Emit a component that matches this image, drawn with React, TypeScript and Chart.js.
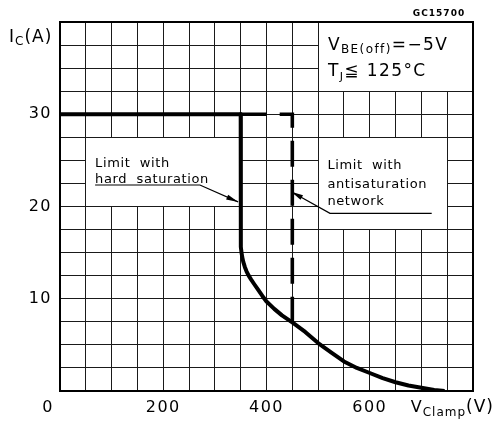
import React, { useEffect, useRef } from "react";
import { Chart, registerables } from "chart.js";

Chart.register(...registerables);

// ---- data ----
// Limit with hard saturation (solid)
const solidV = [0, 350, 350, 350.6, 351.6, 353, 355, 358, 361.5, 365.5, 370, 376, 384, 392, 400, 415, 430, 452, 475, 500, 525, 550, 575, 600, 625, 650, 675, 700, 725, 745];
const solidI = [30, 30, 16.4, 15.6, 15.0, 14.5, 14.0, 13.45, 12.95, 12.5, 12.1, 11.6, 10.95, 10.3, 9.7, 8.9, 8.2, 7.35, 6.4, 5.2, 4.2, 3.2, 2.5, 1.95, 1.4, 0.95, 0.6, 0.35, 0.12, 0];
// Limit with antisaturation network (dashed)
const dashV = [350, 450, 450];
const dashI = [30, 30, 7.4];

const xTickLabels = [0, 200, 400, 600];
const yTickLabels = [10, 20, 30];
const xMin = 0, xMax = 800, xStep = 50;
const yMin = 0, yMax = 40, yStep = 2.5;

const FONT = "'DejaVu Sans', sans-serif";

type Run = { t: string; size: number; dy?: number; bold?: boolean };

function drawRuns(ctx: CanvasRenderingContext2D, x: number, y: number, runs: Run[], spacing = 0, align: "left" | "right" | "center" = "left") {
  ctx.save();
  ctx.textBaseline = "alphabetic";
  ctx.textAlign = "left";
  ctx.fillStyle = "#000";
  (ctx as any).letterSpacing = spacing + "px";
  const fontOf = (r: Run) => `${r.bold ? "bold " : ""}${r.size}px ${FONT}`;
  const widths = runs.map((r) => {
    ctx.font = fontOf(r);
    return ctx.measureText(r.t).width;
  });
  const total = widths.reduce((a, b) => a + b, 0);
  let cx = align === "left" ? x : align === "right" ? x - total : x - total / 2;
  runs.forEach((r, i) => {
    ctx.font = fontOf(r);
    ctx.fillText(r.t, cx, y + (r.dy || 0));
    cx += widths[i];
  });
  ctx.restore();
}

function arrow(ctx: CanvasRenderingContext2D, pts: [number, number][]) {
  ctx.save();
  ctx.strokeStyle = "#000";
  ctx.fillStyle = "#000";
  ctx.lineWidth = 1.2;
  ctx.beginPath();
  ctx.moveTo(pts[0][0], pts[0][1]);
  for (let k = 1; k < pts.length; k++) ctx.lineTo(pts[k][0], pts[k][1]);
  ctx.stroke();
  const [tx, ty] = pts[pts.length - 1];
  const [fx, fy] = pts[pts.length - 2];
  const ang = Math.atan2(ty - fy, tx - fx);
  const L = 12, W = 2.6;
  ctx.beginPath();
  ctx.moveTo(tx, ty);
  ctx.lineTo(tx - L * Math.cos(ang) + W * Math.sin(ang), ty - L * Math.sin(ang) - W * Math.cos(ang));
  ctx.lineTo(tx - L * Math.cos(ang) - W * Math.sin(ang), ty - L * Math.sin(ang) + W * Math.cos(ang));
  ctx.closePath();
  ctx.fill();
  ctx.restore();
}

const decorPlugin = {
  id: "decor",
  beforeUpdate(chart: any) {
    (chart.ctx as any).letterSpacing = "1.5px";
  },
  beforeDraw(chart: any) {
    (chart.ctx as any).letterSpacing = "1.5px";
    const ctx = chart.ctx;
    ctx.save();
    ctx.fillStyle = "#fff";
    ctx.fillRect(0, 0, chart.width, chart.height);
    ctx.restore();
  },
  beforeDatasetsDraw(chart: any) {
    const { ctx, chartArea: a, scales } = chart;
    const X = (v: number) => scales.x.getPixelForValue(v);
    const Y = (v: number) => scales.y.getPixelForValue(v);
    // white note boxes (data coordinates)
    const boxes = [
      [50, 350, 20, 27.5],
      [500, 750, 17.5, 27.5],
      [500, 800, 32.5, 40],
    ];
    ctx.save();
    ctx.fillStyle = "#fff";
    for (const [v0, v1, i0, i1] of boxes) {
      const l = Math.floor(X(v0)) + 1;
      const r = Math.floor(X(v1));
      const t = Math.floor(Y(i1)) + 1;
      const b = Math.floor(Y(i0));
      ctx.fillRect(l, t, r - l, b - t);
    }
    ctx.strokeStyle = "#000";
    ctx.lineWidth = 2;
    ctx.strokeRect(a.left, a.top, a.right - a.left, a.bottom - a.top);
    ctx.restore();
  },
  afterDatasetsDraw(chart: any) {
    const { ctx, chartArea: a, scales } = chart;
    const X = (v: number) => scales.x.getPixelForValue(v);
    const Y = (v: number) => scales.y.getPixelForValue(v);

    // note 1
    drawRuns(ctx, X(68), Y(24.3), [{ t: "Limit  with", size: 13 }], 0.6);
    drawRuns(ctx, X(68), Y(22.55), [{ t: "hard  saturation", size: 13 }], 0.6);
    arrow(ctx, [[X(68), Y(22.33)], [X(271), Y(22.33)], [X(345), Y(20.5)]]);

    // note 2
    drawRuns(ctx, X(518), Y(24.03), [{ t: "Limit  with", size: 13 }], 0.6);
    drawRuns(ctx, X(518), Y(21.97), [{ t: "antisaturation", size: 13 }], 0.6);
    drawRuns(ctx, X(518), Y(20.16), [{ t: "network", size: 13 }], 0.6);
    arrow(ctx, [[X(720), Y(19.26)], [X(523), Y(19.26)], [X(448), Y(21.6)]]);

    // conditions
    drawRuns(ctx, X(519), Y(36.97), [
      { t: "V", size: 17 },
      { t: "BE(off)", size: 12, dy: 3 },
      { t: "=−5V", size: 17 },
    ], 1.4);
    drawRuns(ctx, X(519), Y(34.15), [
      { t: "T", size: 17 },
      { t: "J", size: 11, dy: 4 },
      { t: "≦ 125°C", size: 17 },
    ], 1.4);

    // axis titles
    drawRuns(ctx, a.left - 51, a.top + 20, [
      { t: "I", size: 17 },
      { t: "C", size: 12, dy: 3 },
      { t: "(A)", size: 17 },
    ], 1);
    drawRuns(ctx, 494, a.bottom + 21, [
      { t: "V", size: 16 },
      { t: "Clamp", size: 12, dy: 4 },
      { t: "(V)", size: 17 },
    ], 1, "right");

    // figure code
    drawRuns(ctx, a.right - 34, a.top - 6, [{ t: "GC15700", size: 9, bold: true }], 1, "center");
  },
};

export default function App() {
  const ref = useRef<HTMLCanvasElement | null>(null);
  useEffect(() => {
    if (!ref.current) return;
    const chart = new Chart(ref.current, {
      type: "scatter",
      data: {
        datasets: [
          {
            label: "Limit with hard saturation",
            data: solidV.map((v, i) => ({ x: v, y: solidI[i] })),
            showLine: true,
            borderColor: "#000",
            borderWidth: 4,
            pointRadius: 0,
            tension: 0,
            borderJoinStyle: "round",
            borderCapStyle: "butt",
            order: 1,
          },
          {
            label: "Limit with antisaturation network",
            data: dashV.map((v, i) => ({ x: v, y: dashI[i] })),
            showLine: true,
            borderColor: "#000",
            borderWidth: 3.6,
            borderDash: [26, 13],
            pointRadius: 0,
            tension: 0,
            borderJoinStyle: "miter",
            borderCapStyle: "butt",
            order: 2,
          },
        ],
      },
      options: {
        responsive: false,
        animation: false,
        devicePixelRatio: 1,
        layout: { padding: { top: 22, right: 22, left: 0, bottom: 0 } },
        plugins: {
          legend: { display: false },
          tooltip: { enabled: false },
          title: { display: false },
        },
        scales: {
          x: {
            type: "linear",
            min: xMin,
            max: xMax,
            afterFit: (s: any) => {
              s.height = 33;
            },
            border: { display: false },
            grid: { color: "#1a1a1a", lineWidth: 1, drawTicks: false },
            ticks: {
              stepSize: xStep,
              autoSkip: false,
              maxRotation: 0,
              padding: 7,
              color: "#000",
              font: { family: FONT, size: 16 },
              callback: (v: any) => {
                const n = Number(v);
                if (!xTickLabels.includes(n)) return "";
                return n === 0 ? "0\u2002\u2002\u2009" : String(n);
              },
            },
          },
          y: {
            type: "linear",
            min: yMin,
            max: yMax,
            afterFit: (s: any) => {
              s.width = 60;
            },
            border: { display: false },
            grid: { color: "#1a1a1a", lineWidth: 1, drawTicks: false },
            ticks: {
              stepSize: yStep,
              autoSkip: false,
              padding: 8,
              color: "#000",
              font: { family: FONT, size: 16 },
              callback: (v: any) => (yTickLabels.includes(Number(v)) ? String(v) : ""),
            },
          },
        },
      },
      plugins: [decorPlugin as any],
    });
    return () => chart.destroy();
  }, []);

  return (
    <div style={{ position: "absolute", left: 0, top: 0, width: 495, height: 424, background: "#fff" }}>
      <canvas ref={ref} width={495} height={424} style={{ display: "block" }} />
    </div>
  );
}
